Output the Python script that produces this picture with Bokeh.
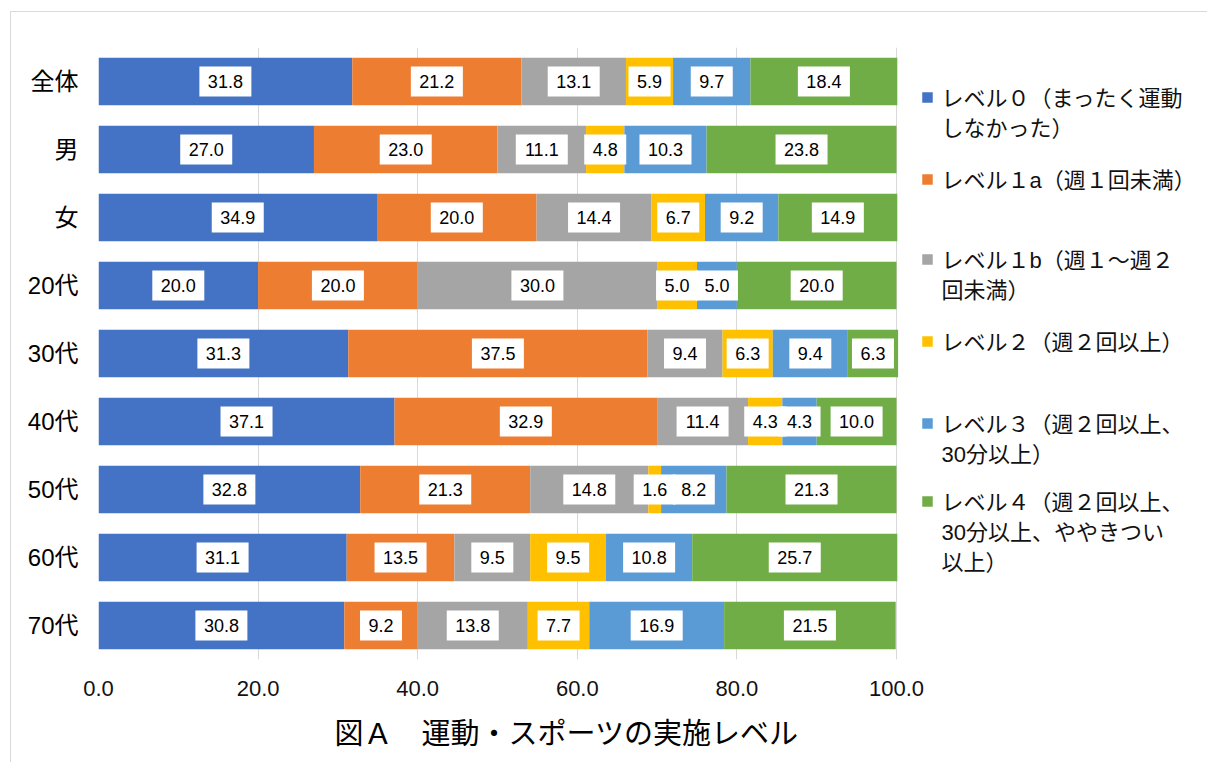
from bokeh.plotting import figure
from bokeh.models import ColumnDataSource, FixedTicker, PrintfTickFormatter, Range1d, Title
from bokeh.embed import file_html
from bokeh.resources import INLINE
from bokeh.core.properties import value

# ---------------- data ----------------
categories = ["全体", "男", "女", "20代", "30代", "40代", "50代", "60代", "70代"]
level0 = [31.8, 27.0, 34.9, 20.0, 31.3, 37.1, 32.8, 31.1, 30.8]
level1a = [21.2, 23.0, 20.0, 20.0, 37.5, 32.9, 21.3, 13.5, 9.2]
level1b = [13.1, 11.1, 14.4, 30.0, 9.4, 11.4, 14.8, 9.5, 13.8]
level2 = [5.9, 4.8, 6.7, 5.0, 6.3, 4.3, 1.6, 9.5, 7.7]
level3 = [9.7, 10.3, 9.2, 5.0, 9.4, 4.3, 8.2, 10.8, 16.9]
level4 = [18.4, 23.8, 14.9, 20.0, 6.3, 10.0, 21.3, 25.7, 21.5]
series_keys = ["l0", "l1a", "l1b", "l2", "l3", "l4"]
legend_lines = [
    ["レベル０（まったく運動", "しなかった）"],
    ["レベル１a（週１回未満）"],
    ["レベル１b（週１～週２", "回未満）"],
    ["レベル２（週２回以上）"],
    ["レベル３（週２回以上、", "30分以上）"],
    ["レベル４（週２回以上、", "30分以上、ややきつい", "以上）"],
]
x_ticks = [0, 20, 40, 60, 80, 100]
title_text = "図Ａ　運動・スポーツの実施レベル"

colors = ["#4472C4", "#ED7D31", "#A5A5A5", "#FFC000", "#5B9BD5", "#70AD47"]
FONT = "Liberation Sans, Noto Sans CJK JP"

series = [level0, level1a, level1b, level2, level3, level4]
n = len(categories)
ypos = [n - 0.5 - i for i in range(n)]  # first category on top
data = {"y": ypos}
for k, s in zip(series_keys, series):
    data[k] = s
source = ColumnDataSource(data)

# ---------------- layout geometry (page px) ----------------
OX, OY = 11, 12            # canvas origin on the page (after margin + border)
W = 1196
FRAME_L, FRAME_T = 98, 47  # page px
PX_PER_X = 7.98            # px per x unit
PX_PER_ROW = 68.0
frame_l = FRAME_L - OX
frame_t = FRAME_T - OY
frame_w = W - frame_l
frame_h = int(PX_PER_ROW * n)

p = figure(frame_width=frame_w, frame_height=frame_h, output_backend="svg", toolbar_location=None,
           x_range=Range1d(0, frame_w / PX_PER_X), y_range=Range1d(0, n),
           min_border_left=frame_l, min_border_right=0, min_border_top=frame_t,
           min_border_bottom=0)
p.styles = {"margin-left": "10px", "margin-top": "11px",
            "border-left": "1px solid #D9D9D9", "border-top": "1px solid #D9D9D9"}
p.background_fill_color = "white"
p.border_fill_color = "white"
p.outline_line_color = None

p.hbar_stack(series_keys, y="y", height=0.70, color=colors, line_color=None, source=source)

# axes
p.xaxis.ticker = FixedTicker(ticks=x_ticks)
p.xaxis.formatter = PrintfTickFormatter(format="%.1f")
p.xaxis.axis_line_color = None
p.xaxis.major_tick_line_color = None
p.xaxis.minor_tick_line_color = None
p.xaxis.major_tick_out = 0
p.xaxis.major_label_standoff = 21
p.xaxis.major_label_text_font = FONT
p.xaxis.major_label_text_font_size = "22px"
p.xaxis.major_label_text_color = "#111111"

p.yaxis.ticker = FixedTicker(ticks=ypos)
p.yaxis.major_label_overrides = {y: c for y, c in zip(ypos, categories)}
p.yaxis.axis_line_color = None
p.yaxis.major_tick_line_color = None
p.yaxis.minor_tick_line_color = None
p.yaxis.major_tick_out = 0
p.yaxis.major_label_standoff = 20
p.yaxis.major_label_text_font = FONT
p.yaxis.major_label_text_font_size = "24px"
p.yaxis.major_label_text_color = "#000000"

p.ygrid.grid_line_color = None
p.xgrid.ticker = FixedTicker(ticks=x_ticks)
p.xgrid.grid_line_color = "#D9D9D9"
p.xgrid.grid_line_width = 1

# ---------------- data labels ----------------
lx, ly, lt, lw = [], [], [], []
for i in range(n):
    left = 0.0
    for s in series:
        v = s[i]
        txt = f"{v:.1f}"
        lx.append(left + v / 2)
        ly.append(ypos[i])
        lt.append(txt)
        ndig = sum(ch.isdigit() for ch in txt)
        lw.append(10.0 * ndig + 5.0 + 17)
        left += v
lab_src = ColumnDataSource(dict(x=lx, y=ly, text=lt, w=lw))
p.rect(x="x", y="y", width="w", width_units="screen", height=30, height_units="screen",
       fill_color="white", line_color=None, source=lab_src)
p.text(x="x", y="y", text="text", source=lab_src, text_align="center", text_baseline="middle",
       text_font=value(FONT), text_font_size="18px", text_color="#000000")

# ---------------- legend (drawn inside the wide frame, right of the bars) ----------------
def dx(px):
    return (px - FRAME_L) / PX_PER_X

def dy(py):
    return (FRAME_T + frame_h - py) / PX_PER_ROW

legend_y = [98, 180, 260, 342, 424, 502]
sq_x, sq_y, sq_c = [], [], []
tx, ty, tt = [], [], []
for lines, col, y0 in zip(legend_lines, colors, legend_y):
    sq_x.append(dx(927))
    sq_y.append(dy(y0 - 1))
    sq_c.append(col)
    for k, t in enumerate(lines):
        tx.append(dx(941))
        ty.append(dy(y0 + 30 * k))
        tt.append(t)
p.rect(x=sq_x, y=sq_y, width=10.5, height=10.5, width_units="screen", height_units="screen",
       fill_color=sq_c, line_color=None)
p.text(x=tx, y=ty, text=tt, text_align="left", text_baseline="middle",
       text_font=value(FONT), text_font_size="22px", text_color="#111111")

# ---------------- caption below axis ----------------
cap = Title(text=title_text, align="left", offset=(334 - OX) - frame_l,
            text_font=FONT, text_font_size="29px", text_font_style="normal",
            text_color="#000000", standoff=34, text_line_height=0.8)
p.add_layout(cap, "below")

open("out.html", "w").write(file_html(p, INLINE))
